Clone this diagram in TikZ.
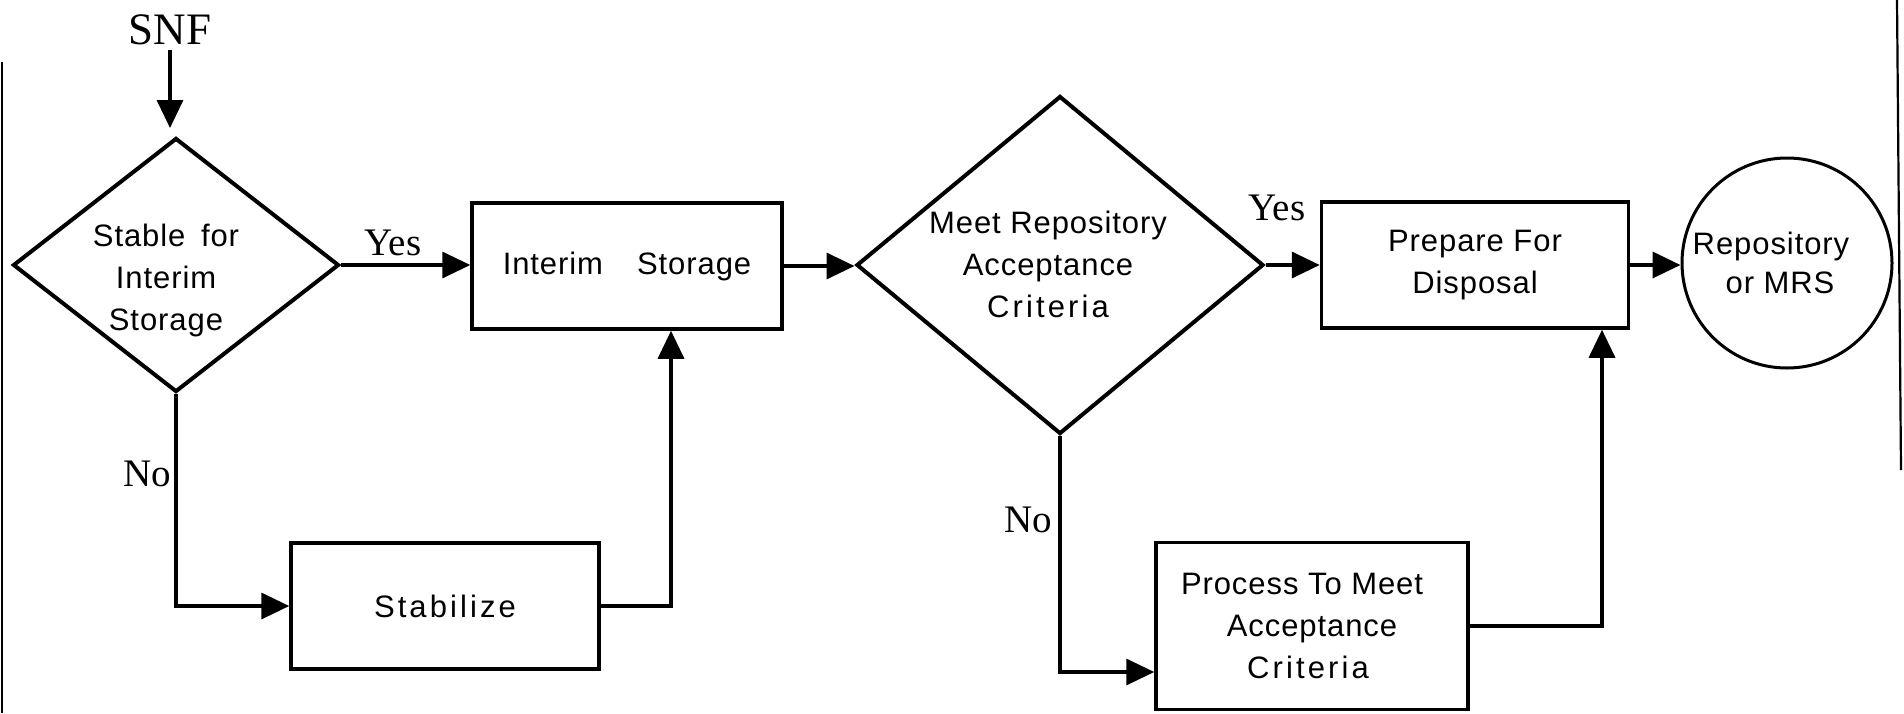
\documentclass[tikz,border=0pt]{standalone}
\usepackage{fontspec}
\setmainfont{Liberation Serif}
\newfontfamily\bx[LetterSpace=3]{Liberation Sans}
\newfontfamily\bxw[LetterSpace=10]{Liberation Sans}
\usetikzlibrary{shapes.geometric,arrows.meta}
\begin{document}
\begin{tikzpicture}[x=1pt,y=-1pt,
  every node/.style={inner sep=0pt},
  box/.style={draw,line width=3.5pt,rectangle,minimum width=310pt,minimum height=126pt,
    font=\bx\fontsize{31}{42}\selectfont,align=center},
  dia/.style={draw,line width=4pt,diamond},
  txt/.style={font=\bx\fontsize{31}{42}\selectfont,align=center},
  lbl/.style={font=\fontsize{39}{44}\selectfont},
  conn/.style={line width=3.5pt},
  arr/.style={conn,-{Triangle[length=28pt,width=26pt]}},
  edge/.style={line width=2.2pt}
]
\useasboundingbox (0,0) rectangle (1904,713);

% scan edges
\draw[edge] (2,62) -- (2,713);
\draw[edge] (1897,0) -- (1901,470);

% nodes
\node[font=\fontsize{45}{50}\selectfont] (snf) at (170,30) {SNF};
\node[dia,minimum width=326pt,minimum height=254pt] (d1) at (176,265) {};
\node[txt] (d1t) at (166,280) {Stable\hspace{6pt} for\\Interim\\Storage};
\node[box,minimum width=310pt] (is) at (627,266) {Interim\hspace{34pt}Storage};
\node[dia,minimum width=407pt,minimum height=338pt] (d2) at (1060,265) {};
\node[txt] (d2t) at (1048,264) {Meet Repository\\Acceptance\\{\bxw Criteria}};
\node[box,minimum width=307pt] (pd) at (1475,265) {Prepare For\\Disposal};
\node[circle,draw,line width=3pt,minimum size=210pt] (rep) at (1787,263) {};
\node[txt,font=\bx\fontsize{31}{39}\selectfont] (rept) at (1771,263) {Repository\\\hspace*{18pt}or MRS};
\node[box,minimum width=308pt,font=\bxw\fontsize{31}{42}\selectfont] (stab) at (445,606) {Stabilize};
\node[box,minimum width=312pt,minimum height=167pt] (proc) at (1312,626)
  {Process To Meet\hspace*{20pt}\\Acceptance\hspace*{20pt}\\{\bxw Criteria}\hspace*{8pt}};

% labels
\node[lbl] (y1) at (393,243) {Yes};
\node[lbl] (y2) at (1277,208) {Yes};
\node[lbl] (n1) at (147,474) {No};
\node[lbl] (n2) at (1028,520) {No};

% connectors
\draw[arr,shorten <=5pt,shorten >=8pt] (snf.south) -- (snf.south |- d1.north);
\draw[arr] (d1.east) -- (d1.east -| is.west);
\draw[arr] (is.east) -- (is.east -| d2.west);
\draw[arr] (d2.east) -- (d2.east -| pd.west);
\draw[arr] (pd.east) -- (pd.east -| rep.west);
\draw[arr] (d1.south) |- (stab.west);
\draw[arr] (stab.east) -| ([xshift=44pt]is.south);
\draw[arr] (d2.south) |- ([yshift=-46pt]proc.west);
\draw[arr] (proc.east) -| ([xshift=127pt]pd.south);
\end{tikzpicture}
\end{document}
